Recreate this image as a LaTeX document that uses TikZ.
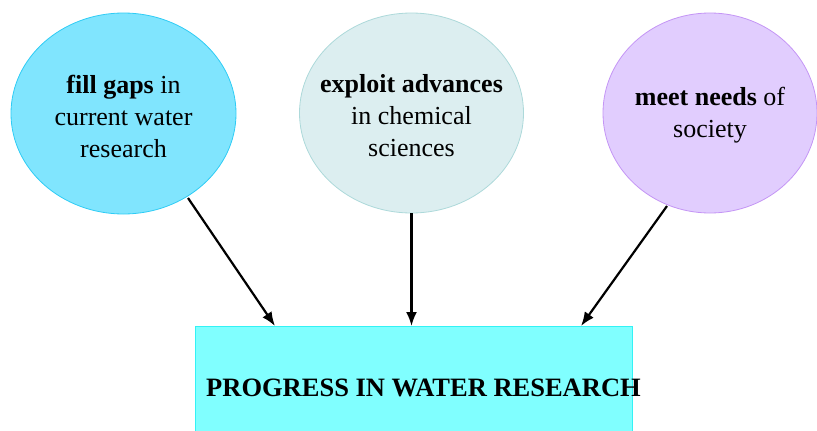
\documentclass[tikz,border=0pt]{standalone}
\usepackage{fontspec}
\setmainfont{Liberation Serif}
\usetikzlibrary{shapes.geometric,arrows.meta}
\definecolor{lfill}{HTML}{80E5FE}
\definecolor{ldraw}{HTML}{2ECCF5}
\definecolor{mfill}{HTML}{DCEEF0}
\definecolor{mdraw}{HTML}{ADD9DA}
\definecolor{rfill}{HTML}{E1CDFE}
\definecolor{rdraw}{HTML}{C495F5}
\definecolor{bfill}{HTML}{80FFFF}
\definecolor{bdraw}{HTML}{33F2F5}
\tikzset{
  bubble/.style={ellipse, inner sep=0pt, line width=0.8pt},
  btext/.style={align=center, inner sep=0pt, font=\fontsize{26}{32}\selectfont},
  flow/.style={-{Latex[length=14pt,width=11pt]}, line width=2.2pt, black},
}
\begin{document}
\begin{tikzpicture}[x=1pt,y=-1pt]
\useasboundingbox (0,0) rectangle (817,431);
\node[bubble, fill=lfill, draw=ldraw, minimum width=225pt, minimum height=201pt] (gaps) at (123.5,113.5) {};
\node[btext] (gapst) at (123.5,116) {\textbf{fill gaps} in\\current water\\research};
\node[bubble, fill=mfill, draw=mdraw, minimum width=224pt, minimum height=200pt] (adv) at (411.5,113) {};
\node[btext] (advt) at (411.5,116) {\textbf{exploit advances}\\in chemical\\sciences};
\node[bubble, fill=rfill, draw=rdraw, minimum width=214pt, minimum height=200pt] (needs) at (710,113) {};
\node[btext] (needst) at (710,115) {\textbf{meet needs} of\\society};
\node[draw=bdraw, fill=bfill, line width=0.8pt, minimum width=437pt, minimum height=120pt, inner sep=0pt] (prog) at (413.5,386) {};
\node[font=\fontsize{26.5}{30}\selectfont\bfseries, inner sep=0pt] (progtext) at (423.5,388) {PROGRESS IN WATER RESEARCH};
\coordinate (s1) at (188,198);
\coordinate (s3) at (667,206);
\coordinate (t1) at (275,326);
\coordinate (t2) at (411.5,326);
\coordinate (t3) at (581,326);
\draw[flow] (s1) -- (t1);
\draw[flow] (adv.south) -- (t2);
\draw[flow] (s3) -- (t3);
\end{tikzpicture}
\end{document}
